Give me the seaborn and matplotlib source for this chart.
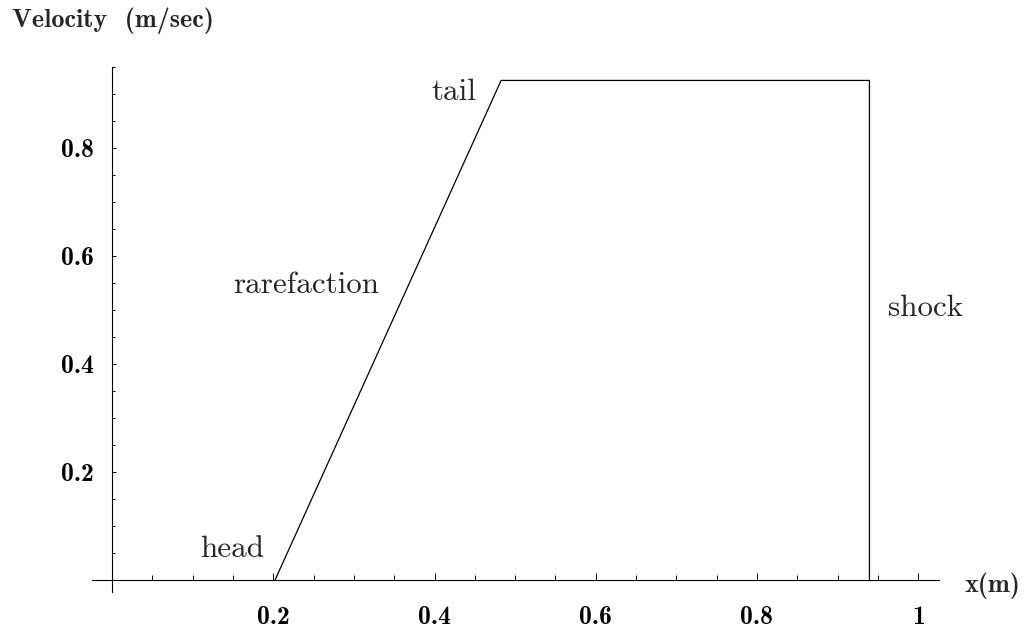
import numpy as np
import seaborn as sns
from matplotlib import pyplot as plt
from matplotlib.ticker import FixedLocator, MultipleLocator

# profile of the velocity (head -> tail -> shock)
pos_x = [0.2022, 0.4826, 0.9396, 0.9396]
vel_y = [0.0, 0.9255, 0.9255, 0.0]

x_ticks = [0.2, 0.4, 0.6, 0.8, 1.0]
x_tick_labels = ['0.2', '0.4', '0.6', '0.8', '1']
y_ticks = [0.2, 0.4, 0.6, 0.8]
y_tick_labels = ['0.2', '0.4', '0.6', '0.8']

sns.set_style('white')
plt.rcParams['font.family'] = ['cmr10', 'DejaVu Serif']
plt.rcParams['axes.formatter.use_mathtext'] = True

fig = plt.figure(figsize=(10.28, 6.35), dpi=100)
ax = fig.add_axes([0.0895, 0.0682, 0.824, 0.8268])

sns.lineplot(x=pos_x, y=vel_y, sort=False, estimator=None, color='black', lw=0.9, ax=ax)

ax.set_xlim(-0.025, 1.026)
ax.set_ylim(-0.022, 0.951)

for s in ['top', 'right']:
    ax.spines[s].set_visible(False)
ax.spines['bottom'].set_position(('data', 0))
ax.spines['left'].set_position(('data', 0))
for s in ['bottom', 'left']:
    ax.spines[s].set_linewidth(0.8)
    ax.spines[s].set_color('black')

ax.xaxis.set_major_locator(FixedLocator(x_ticks))
ax.yaxis.set_major_locator(FixedLocator(y_ticks))
ax.xaxis.set_minor_locator(MultipleLocator(0.05))
ax.yaxis.set_minor_locator(MultipleLocator(0.05))
ax.set_xticklabels(x_tick_labels, fontfamily='cmb10', fontsize=18.5)
ax.set_yticklabels(y_tick_labels, fontfamily='cmb10', fontsize=18.5)

ax.tick_params(which='both', bottom=True, left=True, top=False, right=False)
ax.tick_params(axis='x', which='major', direction='in', length=4.8, width=0.7, pad=19, colors='black')
ax.tick_params(axis='x', which='minor', direction='in', length=3.6, width=0.7, colors='black')
ax.tick_params(axis='y', which='major', direction='in', length=2.7, width=0.7, pad=13, colors='black')
ax.tick_params(axis='y', which='minor', direction='in', length=1.8, width=0.7, colors='black')
ax.set_xlabel('')
ax.set_ylabel('')

# annotations
ax.text(0.3966, 0.8897, 'tail', fontsize=22.4, va='baseline', ha='left')
ax.text(0.1092, 0.042, 'head', fontsize=22.4, va='baseline', ha='left')
ax.text(0.150, 0.531, 'rarefaction', fontsize=22.4, va='baseline', ha='left')
ax.text(0.9628, 0.4887, 'shock', fontsize=22.4, va='baseline', ha='left')

fig.text(0.0114, 0.958, 'Velocity  (m/sec)', fontfamily='cmb10', fontsize=18.8, va='baseline', ha='left')
fig.text(0.9387, 0.0682, 'x(m)', fontfamily='cmb10', fontsize=18.8, va='baseline', ha='left')

fig.savefig('out.png', dpi=100)
